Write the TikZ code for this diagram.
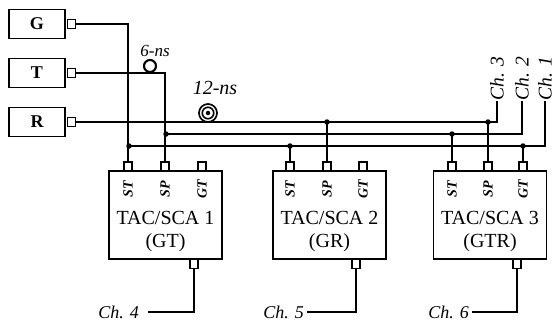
\documentclass[tikz,border=0pt]{standalone}
\usepackage{fontspec}
\setmainfont{Liberation Serif}
\begin{document}
\begin{tikzpicture}[x=1pt,y=-1pt,
  wire/.style={line width=2.1pt},
  inbox/.style={draw, line width=1.7pt, minimum width=56pt, minimum height=29pt, inner sep=0pt, font=\fontsize{18}{18}\selectfont\bfseries},
  portsq/.style={draw, line width=1.4pt, minimum width=8pt, minimum height=8.5pt, inner sep=0pt, fill=white},
  tac/.style={draw, line width=1.7pt, minimum width=113pt, minimum height=88pt, inner sep=0pt},
  sig/.style={rotate=90, font=\fontsize{14}{14}\selectfont\bfseries\itshape, inner sep=0pt},
  tactext/.style={font=\fontsize{20}{20}\selectfont, inner sep=0pt},
  chl/.style={font=\fontsize{18}{18}\selectfont\itshape, inner sep=0pt},
  chv/.style={font=\fontsize{19.5}{19.5}\selectfont\itshape, inner sep=0.5pt, rotate=90, anchor=west},
  nsl/.style={font=\fontsize{#1}{#1}\selectfont\itshape, inner sep=0pt},
  dot/.style={circle, fill, inner sep=0pt, minimum size=5.5pt},
]
\useasboundingbox (0,0) rectangle (555,322);

% input boxes
\node[inbox] (G) at (37,24) {G};
\node[inbox] (T) at (37,73) {T};
\node[inbox] (R) at (37,122) {R};
\node[portsq, anchor=west] (Gp) at ([xshift=1pt]G.east) {};
\node[portsq, anchor=west] (Tp) at ([xshift=1pt]T.east) {};
\node[portsq, anchor=west] (Rp) at ([xshift=1pt]R.east) {};

% TAC boxes
\node[tac] (A) at (165.5,215) {};
\node[tac] (B) at (329.5,215) {};
\node[tac] (C) at (490,215) {};

\node[tactext] (At) at (165.5,218) {TAC/SCA 1};
\node[tactext] (Am) at (165.5,243) {(GT)};
\node[tactext] (Bt) at (329.5,218) {TAC/SCA 2};
\node[tactext] (Bm) at (329.5,243) {(GR)};
\node[tactext] (Ct) at (490,218) {TAC/SCA 3};
\node[tactext] (Cm) at (490,243) {(GTR)};

% top ports
\foreach \b/\xa/\xb/\xc in {A/128/165/202, B/290/327/363, C/452/488/523}{
  \node[portsq, anchor=south] (\b st) at (\xa,171) {};
  \node[portsq, anchor=south] (\b sp) at (\xb,171) {};
  \node[portsq, anchor=south] (\b gt) at (\xc,171) {};
  \node[sig] (\b stl) at (\xa,189) {ST};
  \node[sig] (\b spl) at (\xb,189) {SP};
  \node[sig] (\b gtl) at (\xc,189) {GT};
}
% bottom ports
\node[portsq, anchor=north] (Ao) at (194,259) {};
\node[portsq, anchor=north] (Bo) at (356,259) {};
\node[portsq, anchor=north] (Co) at (517,259) {};

% output labels
\node[chl, anchor=east, inner xsep=9pt] (ch4) at (148,312) {Ch. 4};
\node[chl, anchor=east, inner xsep=3pt] (ch5) at (307,312) {Ch. 5};
\node[chl, anchor=east, inner xsep=3pt] (ch6) at (472,312) {Ch. 6};
\node[chv] (ch3) at (497,101) {Ch. 3};
\node[chv] (ch2) at (522,101) {Ch. 2};
\node[chv] (ch1) at (545,101) {Ch. 1};

% junction dots
\node[dot] (dG) at (129,146) {};
\node[dot] (dT) at (166,134) {};
\node[dot] (dB1) at (290,146) {};
\node[dot] (dB2) at (327,122) {};
\node[dot] (dC1) at (452,134) {};
\node[dot] (dC2) at (488,122) {};
\node[dot] (dC3) at (523,146) {};

% G wiring
\draw[wire] (Gp.east) -| (Ast.north);
\draw[wire] (dG.center) -| (ch1.west);
\draw[wire] (dB1.center) -- (Bst.north);
\draw[wire] (dC3.center) -- (Cgt.north);
% T wiring
\draw[wire] (Tp.east) -| (Asp.north);
\draw[wire] (dT.center) -| (ch2.west);
\draw[wire] (dC1.center) -- (Cst.north);
% R wiring
\draw[wire] (Rp.east) -| (ch3.west);
\draw[wire] (dB2.center) -- (Bsp.north);
\draw[wire] (dC2.center) -- (Csp.north);
% outputs
\draw[wire] (Ao.south) |- (ch4.east);
\draw[wire] (Bo.south) |- (ch5.east);
\draw[wire] (Co.south) |- (ch6.east);

% delay loops
\node[circle, draw, line width=2.1pt, minimum size=12pt, inner sep=0pt] (loop6) at (150,66) {};
\node[nsl=17] (l6) at (155,51) {6-ns};
\node[circle, draw, line width=1.7pt, minimum size=18pt, inner sep=0pt, fill=white] (loop12) at (208,113) {};
\node[circle, draw, line width=1.6pt, minimum size=11.5pt, inner sep=0pt] at (loop12.center) {};
\node[circle, fill, minimum size=4.5pt, inner sep=0pt] at (loop12.center) {};
\node[nsl=20] (l12) at (215,88) {12-ns};
\end{tikzpicture}
\end{document}
